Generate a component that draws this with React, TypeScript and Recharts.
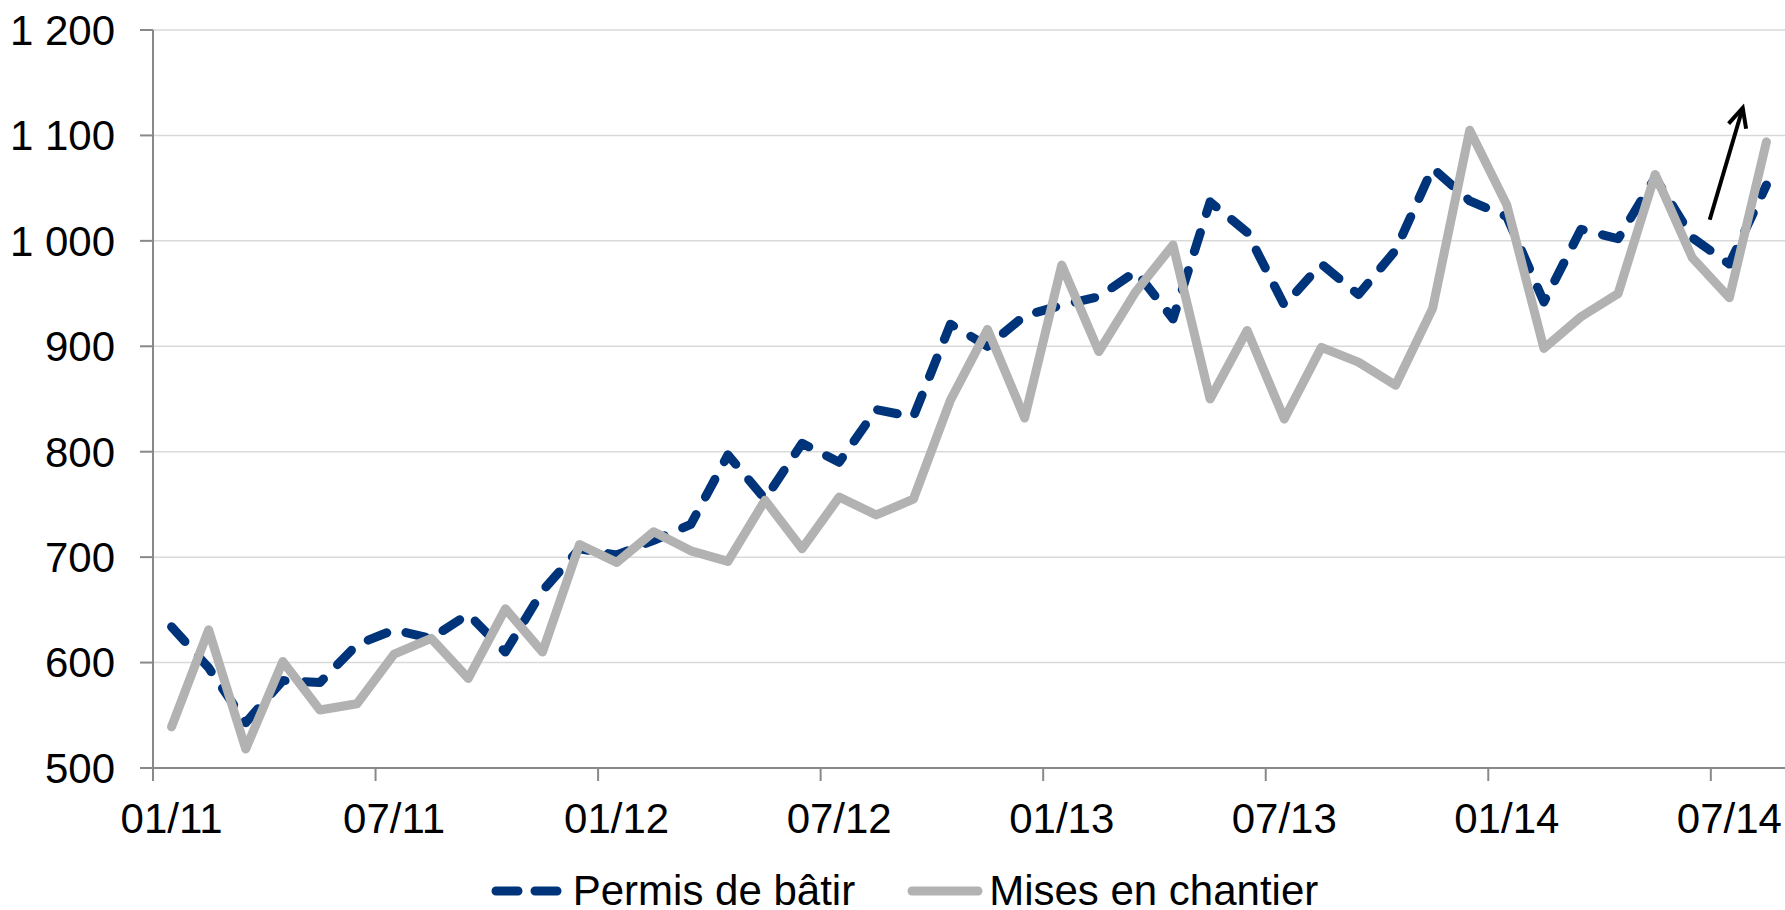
import { LineChart, Line, XAxis, YAxis, CartesianGrid, Legend, ReferenceLine } from "recharts";

// monthly series, 01/2011 .. 08/2014
const months = [
  "01/11", "02/11", "03/11", "04/11", "05/11", "06/11", "07/11", "08/11", "09/11", "10/11", "11/11", "12/11",
  "01/12", "02/12", "03/12", "04/12", "05/12", "06/12", "07/12", "08/12", "09/12", "10/12", "11/12", "12/12",
  "01/13", "02/13", "03/13", "04/13", "05/13", "06/13", "07/13", "08/13", "09/13", "10/13", "11/13", "12/13",
  "01/14", "02/14", "03/14", "04/14", "05/14", "06/14", "07/14", "08/14",
];

const permisDeBatir = [
  634, 595, 543, 583, 581, 617, 631, 623, 646, 610, 668, 708,
  702, 716, 731, 797, 755, 808, 790, 840, 833, 921, 900, 929,
  939, 947, 971, 926, 1037, 1008, 939, 978, 949, 991, 1069, 1038,
  1023, 942, 1011, 1002, 1060, 1003, 978, 1053,
];

const misesEnChantier = [
  539, 631, 518, 601, 555, 561, 608, 623, 585, 651, 610, 712,
  695, 724, 706, 696, 754, 708, 757, 740, 755, 849, 916, 832,
  977, 895, 952, 996, 850, 915, 831, 899, 885, 863, 936, 1105,
  1034, 898, 928, 950, 1063, 984, 946, 1094,
];

const labelledMonths = ["01/11", "07/11", "01/12", "07/12", "01/13", "07/13", "01/14", "07/14"];
const yTicks = [500, 600, 700, 800, 900, 1000, 1100, 1200];

// trend arrow drawn over the last months (x = month index, y = value)
const trendArrow = [
  { x: 41.47, y: 1020 },
  { x: 42.36, y: 1126 },
];

const BLUE = "#00347A";
const GREY = "#B2B2B2";
const AXIS = "#898989";
const FONT = "'Liberation Sans', Arial, Helvetica, sans-serif";

const WIDTH = 1785;
const HEIGHT = 910;
const Y_AXIS_W = 153;
const HALF_MONTH = (WIDTH - Y_AXIS_W) / months.length / 2;
const LINE_W = 9;

const data = months.map((m, i) => ({
  i,
  month: m,
  permis: permisDeBatir[i],
  mises: misesEnChantier[i],
}));

// excel puts tick marks between categories, labels on the category itself
const xTicks = labelledMonths.map((m) => months.indexOf(m) - 0.5);

function formatThousands(v: number) {
  if (v < 1000) return String(v);
  return `${Math.floor(v / 1000)}\u00a0${String(v % 1000).padStart(3, "0")}`;
}

function MonthTick(props: any) {
  const { x, y, payload } = props;
  const idx = Math.round(payload.value + 0.5);
  return (
    <text
      x={x + HALF_MONTH}
      y={y}
      dy="0.71em"
      textAnchor="middle"
      fontSize={42}
      fontFamily={FONT}
      fill="#000"
    >
      {months[idx]}
    </text>
  );
}

function ArrowShape(props: any) {
  const { x1, y1, x2, y2 } = props;
  if (![x1, y1, x2, y2].every(Number.isFinite)) return null;
  const ang = Math.atan2(y2 - y1, x2 - x1);
  const len = 21;
  const spread = 0.45;
  const a = [x2 - len * Math.cos(ang - spread), y2 - len * Math.sin(ang - spread)];
  const b = [x2 - len * Math.cos(ang + spread), y2 - len * Math.sin(ang + spread)];
  return (
    <g>
      <line x1={x1} y1={y1} x2={x2} y2={y2} stroke="#000" strokeWidth={4} />
      <polyline
        points={`${a[0]},${a[1]} ${x2},${y2} ${b[0]},${b[1]}`}
        fill="none"
        stroke="#000"
        strokeWidth={4}
        strokeLinejoin="miter"
      />
    </g>
  );
}

function LegendContent() {
  const items = [
    { label: "Permis de bâtir", color: BLUE, dash: "22 17" },
    { label: "Mises en chantier", color: GREY, dash: undefined },
  ];
  return (
    <div
      style={{
        height: 70,
        boxSizing: "border-box",
        paddingTop: 31,
        paddingLeft: 24,
        display: "flex",
        justifyContent: "center",
        alignItems: "center",
        gap: 52,
        fontFamily: FONT,
        fontSize: 42,
        color: "#000",
      }}
    >
      {items.map((it) => (
        <span key={it.label} style={{ display: "inline-flex", alignItems: "center", gap: 6, lineHeight: "42px" }}>
          <svg width={76} height={20}>
            <line
              x1={5}
              y1={10}
              x2={71}
              y2={10}
              stroke={it.color}
              strokeWidth={LINE_W}
              strokeLinecap="round"
              strokeDasharray={it.dash}
            />
          </svg>
          {it.label}
        </span>
      ))}
    </div>
  );
}

export default function App() {
  return (
    <div style={{ position: "absolute", left: 0, top: 0, width: WIDTH, height: HEIGHT, background: "#fff" }}>
      <LineChart width={WIDTH} height={HEIGHT} data={data} margin={{ top: 30, right: 0, left: 0, bottom: 0 }}>
        <CartesianGrid vertical={false} stroke="#D9D9D9" strokeWidth={1.5} />
        <XAxis
          dataKey="i"
          type="number"
          domain={[-0.5, months.length - 0.5]}
          ticks={xTicks}
          interval={0}
          height={72}
          axisLine={{ stroke: AXIS, strokeWidth: 2 }}
          tickLine={{ stroke: AXIS, strokeWidth: 2 }}
          tickSize={13}
          tickMargin={22}
          tick={<MonthTick />}
          allowDataOverflow
        />
        <YAxis
          domain={[500, 1200]}
          ticks={yTicks}
          interval={0}
          width={Y_AXIS_W}
          axisLine={{ stroke: AXIS, strokeWidth: 2 }}
          tickLine={{ stroke: AXIS, strokeWidth: 2 }}
          tickSize={13}
          tickMargin={25}
          tickFormatter={formatThousands}
          tick={{ fontSize: 42, fill: "#000", fontFamily: FONT }}
          allowDataOverflow
        />
        <Legend verticalAlign="bottom" content={<LegendContent />} />
        <Line
          type="linear"
          dataKey="permis"
          name="Permis de bâtir"
          stroke={BLUE}
          strokeWidth={LINE_W}
          strokeDasharray="20 20"
          strokeLinecap="round"
          strokeLinejoin="round"
          dot={false}
          activeDot={false}
          isAnimationActive={false}
        />
        <Line
          type="linear"
          dataKey="mises"
          name="Mises en chantier"
          stroke={GREY}
          strokeWidth={LINE_W}
          strokeLinejoin="round"
          strokeLinecap="round"
          dot={false}
          activeDot={false}
          isAnimationActive={false}
        />
        <ReferenceLine segment={trendArrow} shape={<ArrowShape />} ifOverflow="visible" />
      </LineChart>
    </div>
  );
}
